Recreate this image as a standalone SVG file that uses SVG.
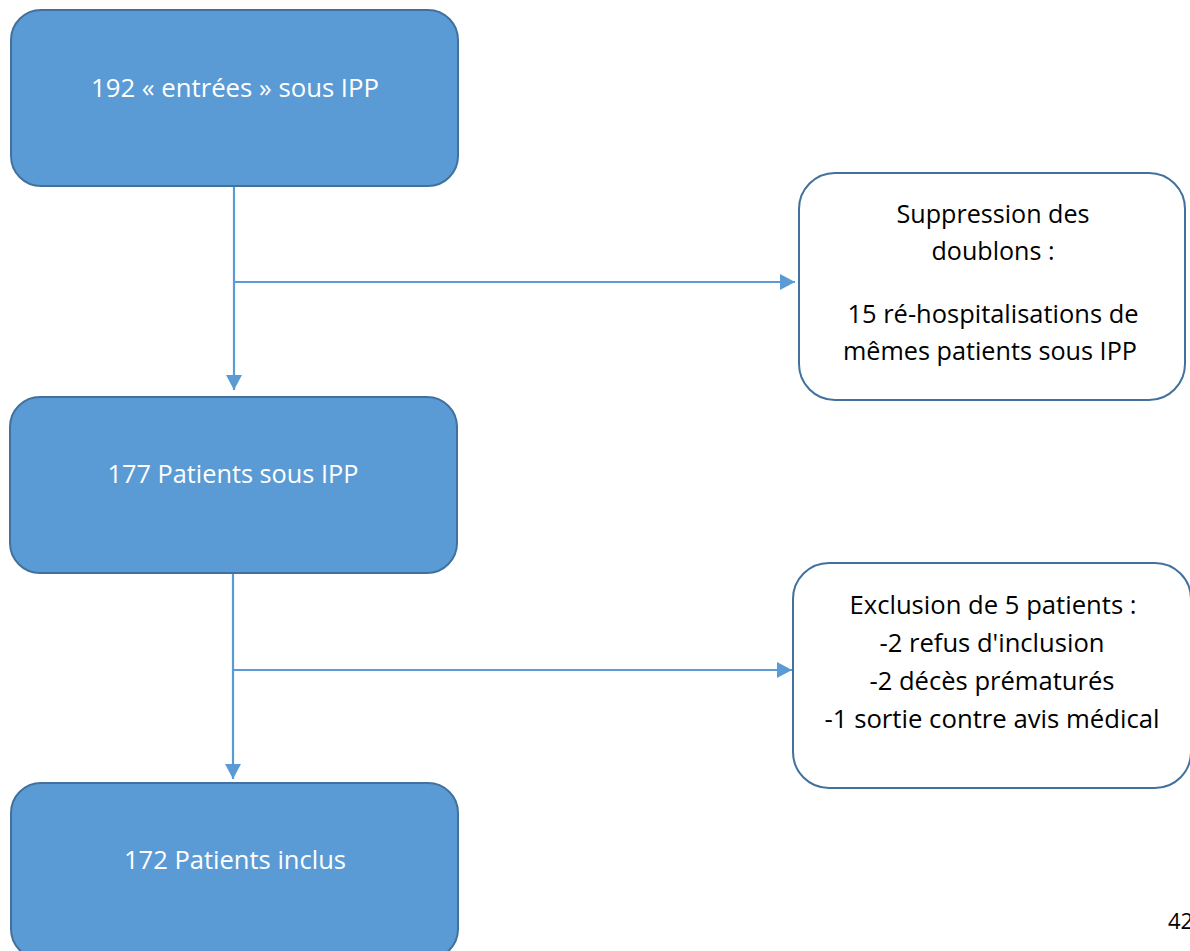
<svg xmlns="http://www.w3.org/2000/svg" width="1190" height="951" viewBox="0 0 1190 951">
<style>
.main rect{fill:#5B9BD5;stroke:#41719C;stroke-width:2}
.side rect{fill:#FFFFFF;stroke:#41719C;stroke-width:2}
text{font-family:"Open Sans","Noto Sans","Liberation Sans",sans-serif;font-size:25px;text-anchor:middle}
.main text{fill:#FFFFFF}
.side text{fill:#000000}
.conn path{fill:none;stroke:#5B9BD5;stroke-width:2.2}
</style>
<defs>
<marker id="arr" markerUnits="userSpaceOnUse" markerWidth="16" markerHeight="16" viewBox="0 0 15 16" refX="15" refY="8" orient="auto">
<path d="M0,0 L15,8 L0,16 Z" fill="#5B9BD5"/>
</marker>
</defs>
<rect width="1190" height="951" fill="#FFFFFF"/>
<g id="connectors" class="conn">
<path d="M234,186 V390" marker-end="url(#arr)"/>
<path d="M234,282 H795" marker-end="url(#arr)"/>
<path d="M233,573 V779" marker-end="url(#arr)"/>
<path d="M233,670 H792" marker-end="url(#arr)"/>
</g>
<g id="n1" class="main">
<rect x="11" y="10" width="447" height="176" rx="30"/>
<text x="235" y="97" textLength="288" lengthAdjust="spacingAndGlyphs">192 « entrées » sous IPP</text>
</g>
<g id="n2" class="main">
<rect x="10" y="397" width="447" height="176" rx="30"/>
<text x="233" y="483" textLength="251" lengthAdjust="spacingAndGlyphs">177 Patients sous IPP</text>
</g>
<g id="n3" class="main">
<rect x="11" y="783" width="447" height="176" rx="30"/>
<text x="235" y="869" textLength="222" lengthAdjust="spacingAndGlyphs">172 Patients inclus</text>
</g>
<g id="s1" class="side">
<rect x="799" y="173" width="386" height="227" rx="36"/>
<text x="993" y="223" textLength="193" lengthAdjust="spacingAndGlyphs">Suppression des</text>
<text x="993" y="260" textLength="123" lengthAdjust="spacingAndGlyphs">doublons :</text>
<text x="993" y="323" textLength="291" lengthAdjust="spacingAndGlyphs">15 ré-hospitalisations de</text>
<text x="990" y="360" textLength="294" lengthAdjust="spacingAndGlyphs">mêmes patients sous IPP</text>
</g>
<g id="s2" class="side">
<rect x="793" y="563" width="398" height="225" rx="36"/>
<text x="993" y="614" textLength="287" lengthAdjust="spacingAndGlyphs">Exclusion de 5 patients :</text>
<text x="992" y="652" textLength="225" lengthAdjust="spacingAndGlyphs">-2 refus d'inclusion</text>
<text x="992" y="690" textLength="245" lengthAdjust="spacingAndGlyphs">-2 décès prématurés</text>
<text x="992" y="728" textLength="335" lengthAdjust="spacingAndGlyphs">-1 sortie contre avis médical</text>
</g>
<text x="1168" y="929" style="text-anchor:start;font-size:22px;fill:#000000">42</text>
</svg>
